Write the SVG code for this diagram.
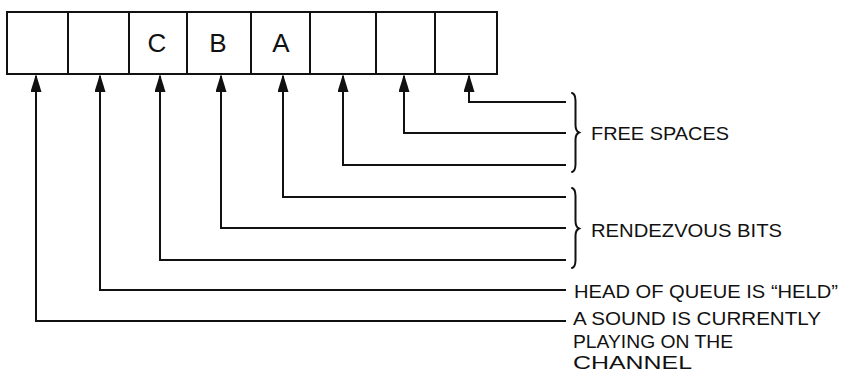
<svg xmlns="http://www.w3.org/2000/svg" width="847" height="373" viewBox="0 0 847 373">
<style>
.cell{fill:#fff;stroke:#111;stroke-width:2}
.letter{font-family:"Liberation Sans",Arial,sans-serif;font-size:26px;fill:#111;text-anchor:middle}
.lbl{font-family:"Liberation Sans",Arial,sans-serif;font-size:19px;fill:#111}
.conn{fill:none;stroke:#111;stroke-width:2;stroke-linejoin:miter}
.brace{fill:none;stroke:#111;stroke-width:2;stroke-linecap:round}
</style>
<defs>
<marker id="arr" viewBox="0 0 18 11" refX="16" refY="5.5" markerWidth="18" markerHeight="11" markerUnits="userSpaceOnUse" orient="auto">
<path d="M0,0 L18,5.5 L0,11 z" fill="#111"/>
</marker>
</defs>
<g id="queue">
<g id="cell1"><rect class="cell" x="7" y="12" width="61" height="62"/></g>
<g id="cell2"><rect class="cell" x="68" y="12" width="61" height="62"/></g>
<g id="cell3"><rect class="cell" x="129" y="12" width="58" height="62"/><text class="letter" x="157" y="52">C</text></g>
<g id="cell4"><rect class="cell" x="187" y="12" width="64" height="62"/><text class="letter" x="218" y="52">B</text></g>
<g id="cell5"><rect class="cell" x="251" y="12" width="59" height="62"/><text class="letter" x="281" y="52">A</text></g>
<g id="cell6"><rect class="cell" x="310" y="12" width="66" height="62"/></g>
<g id="cell7"><rect class="cell" x="376" y="12" width="59" height="62"/></g>
<g id="cell8"><rect class="cell" x="435" y="12" width="62" height="62"/></g>
</g>
<g id="connectors">
<path class="conn" d="M566,102 H469 V76" marker-end="url(#arr)"/>
<path class="conn" d="M566,133 H404 V76" marker-end="url(#arr)"/>
<path class="conn" d="M566,165 H343 V76" marker-end="url(#arr)"/>
<path class="conn" d="M566,197 H283 V76" marker-end="url(#arr)"/>
<path class="conn" d="M566,228 H221 V76" marker-end="url(#arr)"/>
<path class="conn" d="M566,260 H160 V76" marker-end="url(#arr)"/>
<path class="conn" d="M566,290 H100 V76" marker-end="url(#arr)"/>
<path class="conn" d="M566,321 H36 V76" marker-end="url(#arr)"/>
</g>
<g id="free-spaces">
<path class="brace" d="M572,93 Q575.5,94 575.5,101 L575.5,125 Q575.5,131 579,132.5 Q575.5,134 575.5,140 L575.5,164 Q575.5,171 572,172"/>
<text class="lbl" x="591" y="140" textLength="138" lengthAdjust="spacingAndGlyphs">FREE SPACES</text>
</g>
<g id="rendezvous-bits">
<path class="brace" d="M572,188 Q575.5,189 575.5,196 L575.5,221 Q575.5,227 579,228.5 Q575.5,230 575.5,236 L575.5,260 Q575.5,267 572,268"/>
<text class="lbl" x="591" y="237" textLength="191" lengthAdjust="spacingAndGlyphs">RENDEZVOUS BITS</text>
</g>
<g id="head-held">
<text class="lbl" x="574" y="298" textLength="264" lengthAdjust="spacingAndGlyphs">HEAD OF QUEUE IS “HELD”</text>
</g>
<g id="sound-playing">
<text class="lbl" x="573" y="325" textLength="248" lengthAdjust="spacingAndGlyphs">A SOUND IS CURRENTLY</text>
<text class="lbl" x="573" y="348" textLength="160" lengthAdjust="spacingAndGlyphs">PLAYING ON THE</text>
<text class="lbl" x="573" y="369" textLength="119" lengthAdjust="spacingAndGlyphs">CHANNEL</text>
</g>
</svg>
